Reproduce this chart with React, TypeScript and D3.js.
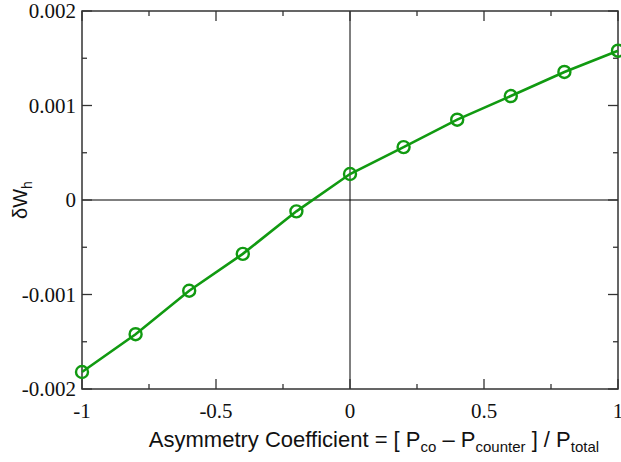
import React, { useEffect, useRef } from "react";
import * as d3 from "d3";

const asym = [-1, -0.8, -0.6, -0.4, -0.2, 0, 0.2, 0.4, 0.6, 0.8, 1];
const dW = [-0.00182, -0.00142, -0.00096, -0.00057, -0.00012, 0.000275, 0.00056, 0.00085, 0.0011, 0.001355, 0.00158];
const xTicks = [-1, -0.5, 0, 0.5, 1];
const xTickLabels = ["-1", "-0.5", "0", "0.5", "1"];
const yTicks = [-0.002, -0.001, 0, 0.001, 0.002];
const yTickLabels = ["-0.002", "-0.001", "0", "0.001", "0.002"];
const xMinor = [-0.75, -0.25, 0.25, 0.75];
const yMinor = [-0.0015, -0.0005, 0.0005, 0.0015];

export default function App() {
  const svgRef = useRef<SVGSVGElement>(null);

  useEffect(() => {
    const W = 621, H = 462;
    const left = 82, right = 618, top = 11, bottom = 389;
    const svg = d3.select(svgRef.current).attr("width", W).attr("height", H);
    svg.selectAll("*").remove();

    const x = d3.scaleLinear().domain([-1, 1]).range([left, right]);
    const y = d3.scaleLinear().domain([-0.002, 0.002]).range([bottom, top]);
    const green = "#119a11";

    // zero lines
    svg.append("line").attr("x1", x(0)).attr("x2", x(0)).attr("y1", top).attr("y2", bottom)
      .attr("stroke", "#000").attr("stroke-width", 1);
    svg.append("line").attr("x1", left).attr("x2", right).attr("y1", y(0)).attr("y2", y(0))
      .attr("stroke", "#000").attr("stroke-width", 1);

    // frame
    svg.append("rect").attr("x", left).attr("y", top).attr("width", right - left).attr("height", bottom - top)
      .attr("fill", "none").attr("stroke", "#333").attr("stroke-width", 1.5);

    const ticks = svg.append("g").attr("stroke", "#333").attr("stroke-width", 1.3);
    const addX = (v: number, len: number) => {
      ticks.append("line").attr("x1", x(v)).attr("x2", x(v)).attr("y1", bottom).attr("y2", bottom - len);
      ticks.append("line").attr("x1", x(v)).attr("x2", x(v)).attr("y1", top).attr("y2", top + len);
    };
    const addY = (v: number, len: number) => {
      ticks.append("line").attr("x1", left).attr("x2", left + len).attr("y1", y(v)).attr("y2", y(v));
      ticks.append("line").attr("x1", right).attr("x2", right - len).attr("y1", y(v)).attr("y2", y(v));
    };
    xTicks.forEach(v => addX(v, 10));
    xMinor.forEach(v => addX(v, 5));
    yTicks.forEach(v => addY(v, 10));
    yMinor.forEach(v => addY(v, 5));

    // tick labels
    svg.append("g").selectAll("text").data(xTicks).join("text")
      .attr("x", d => x(d)).attr("y", bottom + 29)
      .attr("text-anchor", "middle")
      .attr("font-family", "'Liberation Serif', 'DejaVu Serif', serif")
      .attr("font-size", 21).attr("fill", "#111")
      .text((d, i) => xTickLabels[i]);

    svg.append("g").selectAll("text").data(yTicks).join("text")
      .attr("x", left - 6).attr("y", d => y(d)).attr("dy", "0.35em")
      .attr("text-anchor", "end")
      .attr("font-family", "'Liberation Serif', 'DejaVu Serif', serif")
      .attr("font-size", 21).attr("fill", "#111")
      .text((d, i) => yTickLabels[i]);

    // data line
    const pts = asym.map((a, i) => [a, dW[i]] as [number, number]);
    svg.append("path").datum(pts)
      .attr("d", d3.line<[number, number]>().x(d => x(d[0])).y(d => y(d[1])))
      .attr("fill", "none").attr("stroke", green).attr("stroke-width", 2.6);

    svg.append("g").selectAll("circle").data(pts).join("circle")
      .attr("cx", d => x(d[0])).attr("cy", d => y(d[1])).attr("r", 6)
      .attr("fill", "none").attr("stroke", green).attr("stroke-width", 2.4);

    // x axis label
    const xl = svg.append("text")
      .attr("x", 374).attr("y", 447)
      .attr("text-anchor", "middle")
      .attr("font-family", "'Liberation Sans', Arial, sans-serif")
      .attr("font-size", 22).attr("fill", "#111");
    xl.append("tspan").text("Asymmetry Coefficient = [ P");
    xl.append("tspan").attr("font-size", 15).attr("dy", 5).text("co");
    xl.append("tspan").attr("dy", -5).text(" \u2013 P");
    xl.append("tspan").attr("font-size", 15).attr("dy", 5).text("counter");
    xl.append("tspan").attr("dy", -5).text(" ] / P");
    xl.append("tspan").attr("font-size", 15).attr("dy", 5).text("total");

    // y axis label
    const yl = svg.append("text")
      .attr("transform", `translate(27, ${y(0)}) rotate(-90)`)
      .attr("text-anchor", "middle")
      .attr("font-family", "'Liberation Sans', Arial, sans-serif")
      .attr("font-size", 20).attr("fill", "#111");
    yl.append("tspan").text("\u03b4W");
    yl.append("tspan").attr("font-size", 14).attr("dy", 5).text("h");
  }, []);

  return (
    <div style={{ position: "absolute", left: 0, top: 0 }}>
      <svg ref={svgRef}></svg>
    </div>
  );
}
